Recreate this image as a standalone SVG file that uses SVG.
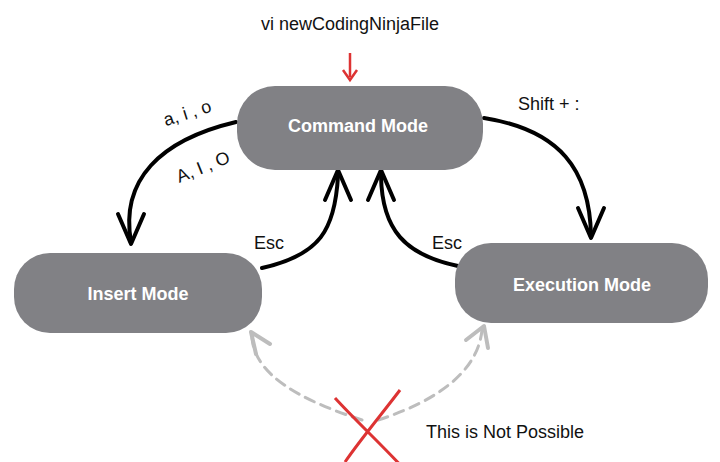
<svg xmlns="http://www.w3.org/2000/svg" width="720" height="462" viewBox="0 0 720 462">
<style>
.node{fill:#818185}
.nt{font-family:"Liberation Sans",Arial,sans-serif;font-weight:bold;font-size:18px;fill:#fff;text-anchor:middle}
.lbl{font-family:"Liberation Sans",Arial,sans-serif;font-size:18px;fill:#111}
.c{fill:none;stroke:#000;stroke-width:4;stroke-linecap:round;stroke-linejoin:round}
.d{fill:none;stroke:#bdbdbd;stroke-width:3;stroke-dasharray:10 7;stroke-linecap:round}
.dh{fill:none;stroke:#bdbdbd;stroke-width:4;stroke-linecap:round;stroke-linejoin:round}
</style>
<rect width="720" height="462" fill="#fff"/>
<g id="connectors">
<path d="M350 53V77" stroke="#d33" stroke-width="2.5"/>
<path d="M343 70L350 80L357 70" fill="none" stroke="#d33" stroke-width="2.5"/>
<path class="c" d="M236 122C160 140 120 180 131 242"/>
<path class="c" d="M118 214L131 244L144 214"/>
<path class="c" d="M484 118C560 130 590 170 591 236"/>
<path class="c" d="M578 208L591 238L604 208"/>
<path class="c" d="M262 268C320 255 335 230 338 176"/>
<path class="c" d="M325 200L338 170L351 200"/>
<path class="c" d="M458 266C405 255 382 230 381 176"/>
<path class="c" d="M368 200L381 170L394 200"/>
<path class="d" d="M362 420C300 400 255 375 252 338"/>
<path class="dh" d="M256 354L251 332L270 344"/>
<path class="d" d="M378 420C440 400 478 370 482 330"/>
<path class="dh" d="M466 340L484 326L488 348"/>
<path d="M335 398C355 420 385 448 405 470M400 390C385 410 360 440 345 462" fill="none" stroke="#d33" stroke-width="3"/>
</g>
<g id="command"><rect class="node" x="237" y="86" width="246" height="84" rx="38"/><text class="nt" x="358" y="132">Command Mode</text></g>
<g id="insert"><rect class="node" x="14" y="253" width="248" height="80" rx="36"/><text class="nt" x="138" y="300">Insert Mode</text></g>
<g id="execution"><rect class="node" x="455" y="243" width="253" height="80" rx="36"/><text class="nt" x="582" y="291">Execution Mode</text></g>
<g id="labels">
<text class="lbl" x="350" y="30" text-anchor="middle">vi newCodingNinjaFile</text>
<text class="lbl" x="162" y="118" transform="rotate(-18 190 110)">a, i , o</text>
<text class="lbl" x="174" y="174" transform="rotate(-22 200 165)">A, I , O</text>
<text class="lbl" x="518" y="110">Shift + :</text>
<text class="lbl" x="254" y="249">Esc</text>
<text class="lbl" x="432" y="249">Esc</text>
<text class="lbl" x="426" y="438">This is Not Possible</text>
</g>
</svg>
